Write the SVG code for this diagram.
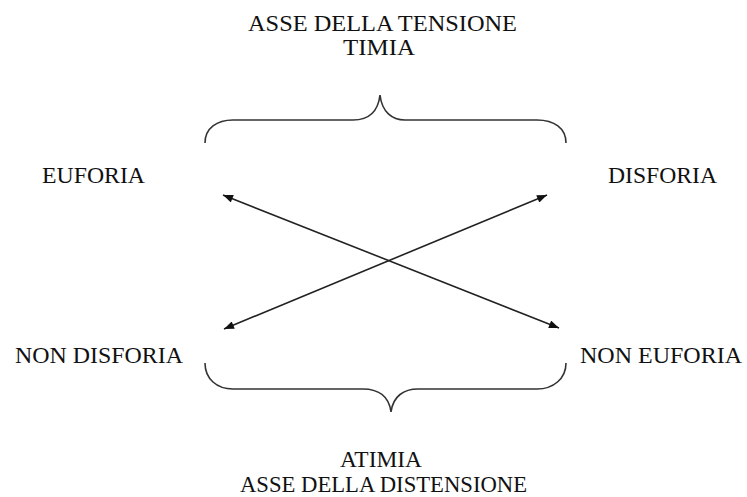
<svg xmlns="http://www.w3.org/2000/svg" width="747" height="497" viewBox="0 0 747 497">
  <style>
    .t { font-family: "Liberation Serif", "Times New Roman", serif; font-size: 23px; fill: #111; }
    .brace { fill: none; stroke: #333; stroke-width: 1.6; }
    .arr { fill: none; stroke: #222; stroke-width: 1.6; }
  </style>
  <defs>
    <marker id="ah" viewBox="0 0 10 8" refX="10" refY="4" markerWidth="11" markerHeight="8" markerUnits="userSpaceOnUse" orient="auto-start-reverse">
      <path d="M0,0 L10,4 L0,8 Z" fill="#111"/>
    </marker>
  </defs>
  <rect width="747" height="497" fill="#fff"/>

  <g id="top-axis">
    <text class="t" x="248" y="31" textLength="269" lengthAdjust="spacingAndGlyphs">ASSE DELLA TENSIONE</text>
    <text class="t" x="343" y="55" textLength="72" lengthAdjust="spacingAndGlyphs">TIMIA</text>
    <path class="brace" d="M205,143 C205,128 217,120 233,120 L353,120 C368,120 378,112 380,95 C382,112 392,120 405,120 L537,120 C554,120 566,128 566,143"/>
  </g>

  <g id="euforia">
    <text class="t" x="42" y="183" textLength="103" lengthAdjust="spacingAndGlyphs">EUFORIA</text>
  </g>
  <g id="disforia">
    <text class="t" x="608" y="183" textLength="109" lengthAdjust="spacingAndGlyphs">DISFORIA</text>
  </g>
  <g id="non-disforia">
    <text class="t" x="15" y="363" textLength="168" lengthAdjust="spacingAndGlyphs">NON DISFORIA</text>
  </g>
  <g id="non-euforia">
    <text class="t" x="580" y="363" textLength="162" lengthAdjust="spacingAndGlyphs">NON EUFORIA</text>
  </g>

  <g id="bottom-axis">
    <path class="brace" d="M205,363 C205,379 217,389 233,389 L363,389 C378,389 389,396 391,412 C393,396 404,389 418,389 L537,389 C553,389 566,379 566,363"/>
    <text class="t" x="340" y="467" textLength="82" lengthAdjust="spacingAndGlyphs">ATIMIA</text>
    <text class="t" x="240" y="492" textLength="287" lengthAdjust="spacingAndGlyphs">ASSE DELLA DISTENSIONE</text>
  </g>

  <g id="connectors">
    <line class="arr" x1="223" y1="195" x2="559" y2="328" marker-start="url(#ah)" marker-end="url(#ah)"/>
    <line class="arr" x1="224" y1="329" x2="547" y2="195" marker-start="url(#ah)" marker-end="url(#ah)"/>
  </g>
</svg>
